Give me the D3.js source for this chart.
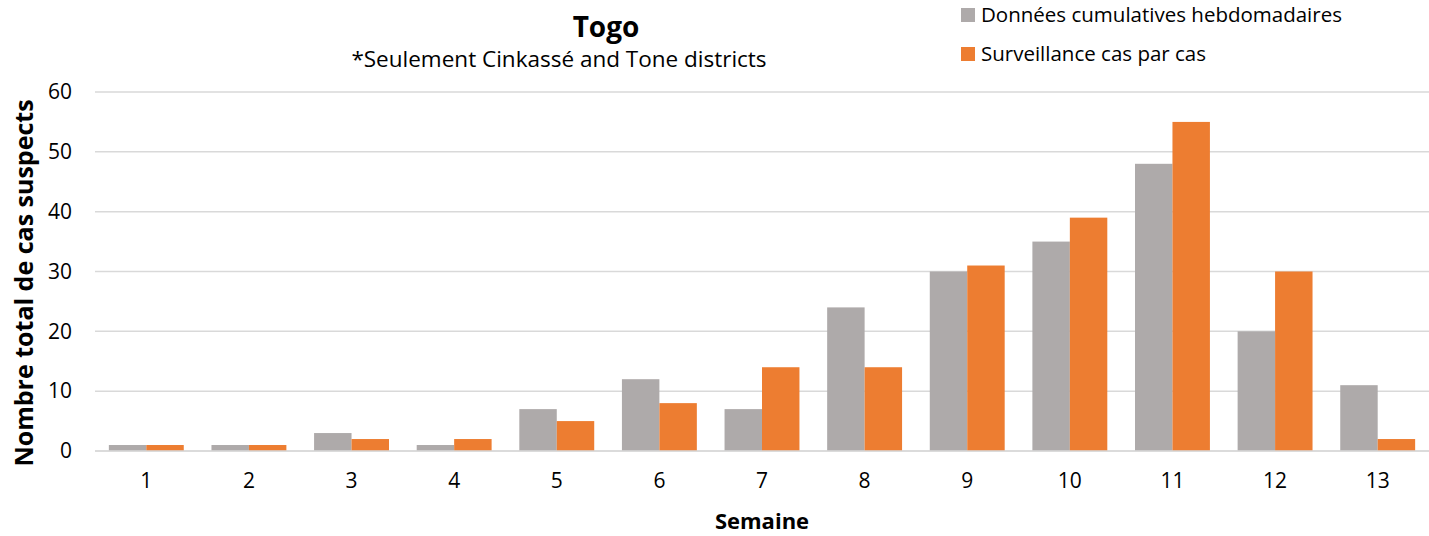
<!DOCTYPE html>
<html>
<head>
<meta charset="utf-8">
<script src="https://cdn.jsdelivr.net/npm/d3@7"></script>
<style>
  body { margin: 0; background: #fff; }
  text { font-family: "Open Sans", sans-serif; fill: #000; }
</style>
</head>
<body>
<svg id="chart"></svg>
<script>
var width = 1429;
var height = 536;

// data
var weeks = ["1", "2", "3", "4", "5", "6", "7", "8", "9", "10", "11", "12", "13"];
var seriesNames = ["Données cumulatives hebdomadaires", "Surveillance cas par cas"];
var cumulatives = [1, 1, 3, 1, 7, 12, 7, 24, 30, 35, 48, 20, 11];
var parCas = [1, 1, 2, 2, 5, 8, 14, 14, 31, 39, 55, 30, 2];
var yTicks = [0, 10, 20, 30, 40, 50, 60];
var colors = ["#AEAAAA", "#ED7D31"];

var svg = d3.select("#chart")
  .attr("width", width)
  .attr("height", height);

var x = d3.scaleBand()
  .domain(weeks)
  .range([95, 1429])
  .paddingInner(0.27)
  .paddingOuter(0.135);

var xSub = d3.scaleBand()
  .domain([0, 1])
  .range([0, x.bandwidth()]);

var y = d3.scaleLinear()
  .domain([0, 60])
  .range([451, 92]);

// grid lines
svg.append("g")
  .selectAll("line")
  .data(yTicks)
  .join("line")
  .attr("x1", 95)
  .attr("x2", 1429)
  .attr("y1", d => y(d))
  .attr("y2", d => y(d))
  .attr("stroke", "#d9d9d9")
  .attr("stroke-width", 1.5);

// y axis labels
var yAxis = d3.axisLeft(y).tickValues(yTicks).tickSize(0).tickPadding(0);
var gy = svg.append("g").attr("transform", "translate(72,0)").call(yAxis);
gy.select(".domain").remove();
gy.selectAll("text").style("font-size", "21px").attr("fill", "#000");

// bars
var rows = weeks.map((w, i) => ({ week: w, vals: [cumulatives[i], parCas[i]] }));

var groups = svg.append("g")
  .selectAll("g")
  .data(rows)
  .join("g")
  .attr("transform", d => "translate(" + x(d.week) + ",0)");

groups.selectAll("rect")
  .data(d => d.vals.map((v, k) => ({ k: k, v: v })))
  .join("rect")
  .attr("x", d => xSub(d.k))
  .attr("width", xSub.bandwidth())
  .attr("y", d => y(d.v))
  .attr("height", d => y(0) - y(d.v))
  .attr("fill", d => colors[d.k]);

// baseline
svg.append("line")
  .attr("x1", 95).attr("x2", 1429)
  .attr("y1", y(0)).attr("y2", y(0))
  .attr("stroke", "#d9d9d9")
  .attr("stroke-width", 1.5);

// x axis labels
var xAxis = d3.axisBottom(x).tickSize(0).tickPadding(0);
var gx = svg.append("g").attr("transform", "translate(0,473)").call(xAxis);
gx.select(".domain").remove();
gx.selectAll("text").style("font-size", "21px").attr("fill", "#000");

// titles
svg.append("text")
  .attr("x", 606).attr("y", 37)
  .attr("text-anchor", "middle")
  .style("font-size", "28px").style("font-weight", "bold")
  .text("Togo");

svg.append("text")
  .attr("x", 559).attr("y", 67)
  .attr("text-anchor", "middle")
  .style("font-size", "22.5px")
  .text("*Seulement Cinkassé and Tone districts");

svg.append("text")
  .attr("x", 762).attr("y", 529)
  .attr("text-anchor", "middle")
  .style("font-size", "22px").style("font-weight", "bold")
  .text("Semaine");

svg.append("text")
  .attr("transform", "translate(33,283) rotate(-90)")
  .attr("text-anchor", "middle")
  .style("font-size", "25px").style("font-weight", "bold")
  .text("Nombre total de cas suspects");

// legend
var legend = svg.append("g")
  .selectAll("g")
  .data(seriesNames)
  .join("g")
  .attr("transform", (d, i) => "translate(961," + (8 + i * 39) + ")");

legend.append("rect")
  .attr("width", 14).attr("height", 14)
  .attr("fill", (d, i) => colors[i]);

legend.append("text")
  .attr("x", 20).attr("y", 14)
  .style("font-size", "20.5px")
  .text(d => d);
</script>
</body>
</html>
